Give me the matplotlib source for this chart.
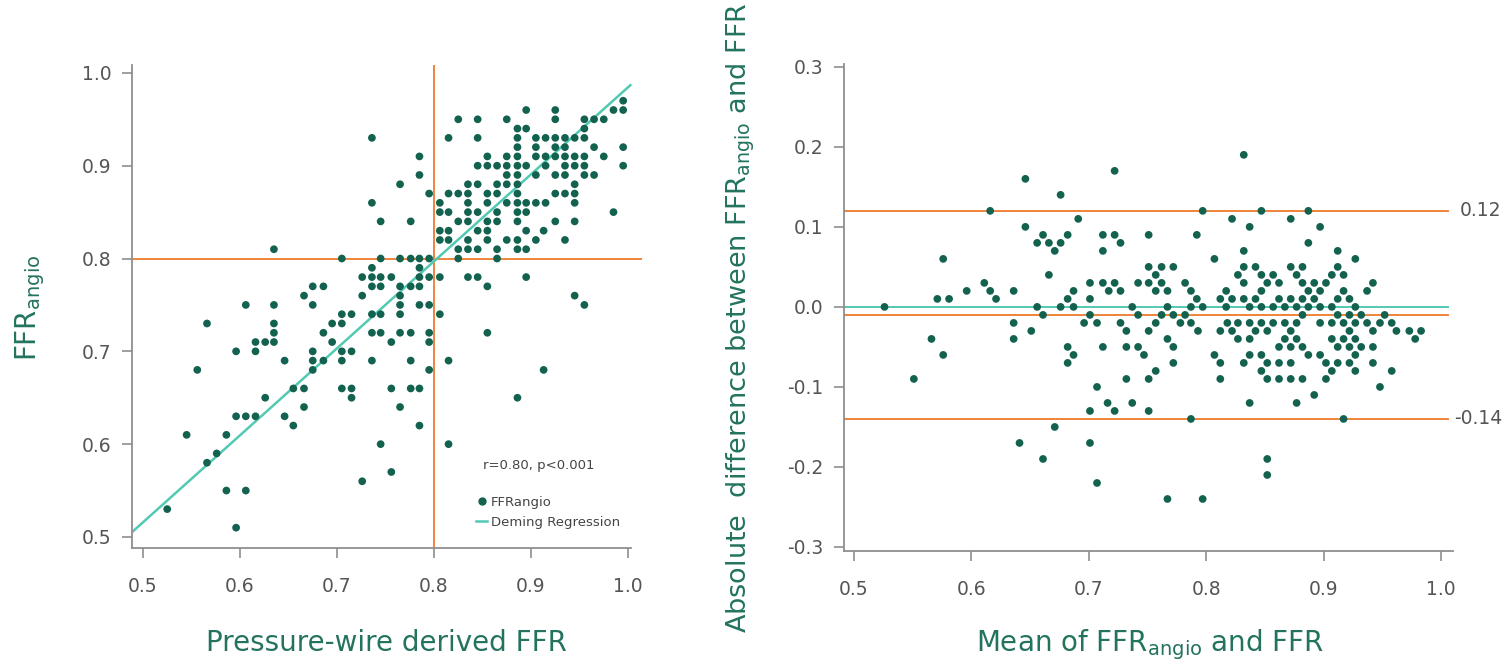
import matplotlib
matplotlib.use("Agg")
import matplotlib.pyplot as plt
from matplotlib.lines import Line2D
import numpy as np

plt.rcParams['font.family'] = ['DejaVu Sans']
plt.rcParams['mathtext.default'] = 'regular'

# ---------------- Left panel data: rows of FFRangio value -> pressure-wire FFR values
left_rows = {
    0.97: [0.995],
    0.96: [0.895, 0.925, 0.985, 0.995],
    0.95: [0.825, 0.845, 0.875, 0.925, 0.955, 0.965, 0.975],
    0.94: [0.886, 0.895, 0.955],
    0.93: [0.736, 0.815, 0.845, 0.886, 0.905, 0.915, 0.925, 0.935, 0.945, 0.955],
    0.92: [0.886, 0.905, 0.925, 0.935, 0.965, 0.995],
    0.91: [0.785, 0.855, 0.875, 0.886, 0.905, 0.915, 0.925, 0.935, 0.945, 0.955, 0.975],
    0.90: [0.845, 0.855, 0.865, 0.875, 0.886, 0.895, 0.915, 0.935, 0.945, 0.955, 0.995],
    0.89: [0.785, 0.875, 0.886, 0.905, 0.925, 0.935, 0.955, 0.965],
    0.88: [0.765, 0.835, 0.845, 0.865, 0.875, 0.886, 0.945],
    0.87: [0.795, 0.815, 0.825, 0.835, 0.855, 0.865, 0.886, 0.925, 0.935, 0.945],
    0.86: [0.736, 0.806, 0.835, 0.855, 0.875, 0.886, 0.895, 0.905, 0.915, 0.945],
    0.85: [0.806, 0.815, 0.835, 0.845, 0.865, 0.886, 0.895, 0.985],
    0.84: [0.745, 0.776, 0.825, 0.835, 0.855, 0.865, 0.886, 0.925, 0.945],
    0.83: [0.806, 0.815, 0.845, 0.855, 0.895, 0.913],
    0.82: [0.806, 0.815, 0.835, 0.855, 0.875, 0.886, 0.905, 0.935],
    0.81: [0.635, 0.825, 0.835, 0.845, 0.865, 0.886, 0.895],
    0.80: [0.705, 0.745, 0.765, 0.776, 0.785, 0.795, 0.825, 0.865],
    0.79: [0.736, 0.785],
    0.78: [0.726, 0.736, 0.745, 0.756, 0.785, 0.795, 0.806, 0.835, 0.845, 0.895],
    0.77: [0.675, 0.686, 0.736, 0.745, 0.765, 0.776, 0.785, 0.855],
    0.76: [0.666, 0.726, 0.765, 0.945],
    0.75: [0.606, 0.635, 0.675, 0.765, 0.785, 0.795, 0.955],
    0.74: [0.705, 0.715, 0.736, 0.745, 0.765, 0.806],
    0.73: [0.566, 0.635, 0.695, 0.705],
    0.72: [0.635, 0.686, 0.736, 0.745, 0.765, 0.776, 0.795, 0.855],
    0.71: [0.616, 0.626, 0.635, 0.695, 0.756, 0.795],
    0.70: [0.596, 0.616, 0.675, 0.705, 0.715],
    0.69: [0.646, 0.675, 0.686, 0.705, 0.736, 0.776, 0.815],
    0.68: [0.556, 0.675, 0.795, 0.913],
    0.66: [0.655, 0.666, 0.705, 0.715, 0.756, 0.776, 0.785],
    0.65: [0.626, 0.715, 0.886],
    0.64: [0.666, 0.765],
    0.63: [0.596, 0.606, 0.616, 0.646],
    0.62: [0.655, 0.785],
    0.61: [0.545, 0.586],
    0.60: [0.745, 0.815],
    0.59: [0.576],
    0.58: [0.566],
    0.57: [0.756],
    0.56: [0.726],
    0.55: [0.586, 0.606],
    0.53: [0.525],
    0.51: [0.596],
}
ffr_wire = [x for yv, xs in left_rows.items() for x in xs]
ffr_angio = [yv for yv, xs in left_rows.items() for x in xs]

deming_slope = 0.9375
deming_intercept = 0.047
cutoff = 0.80

# ---------------- Right panel data: rows of difference -> mean values
right_rows = {
    0.19: [0.832],
    0.17: [0.722],
    0.16: [0.646],
    0.14: [0.676],
    0.12: [0.616, 0.797, 0.847, 0.887],
    0.11: [0.691, 0.822, 0.872],
    0.10: [0.646, 0.837, 0.897],
    0.09: [0.661, 0.682, 0.712, 0.722, 0.751, 0.792],
    0.08: [0.656, 0.666, 0.676, 0.727, 0.887],
    0.07: [0.671, 0.712, 0.832, 0.912],
    0.06: [0.576, 0.807, 0.927],
    0.05: [0.751, 0.762, 0.772, 0.832, 0.842, 0.872, 0.882, 0.912],
    0.04: [0.666, 0.757, 0.827, 0.847, 0.857, 0.877, 0.907, 0.917],
    0.03: [0.611, 0.701, 0.712, 0.722, 0.742, 0.751, 0.762, 0.782, 0.832, 0.852,
           0.862, 0.882, 0.892, 0.902, 0.942],
    0.02: [0.596, 0.616, 0.636, 0.687, 0.717, 0.727, 0.757, 0.767, 0.787, 0.817,
           0.847, 0.887, 0.897, 0.917, 0.937],
    0.01: [0.571, 0.581, 0.621, 0.682, 0.701, 0.792, 0.812, 0.822, 0.832, 0.842,
           0.862, 0.872, 0.882, 0.892, 0.912, 0.922],
    0.00: [0.526, 0.656, 0.676, 0.687, 0.737, 0.767, 0.787, 0.797, 0.817, 0.837,
           0.847, 0.857, 0.867, 0.877, 0.887, 0.897, 0.907, 0.927],
    -0.01: [0.661, 0.701, 0.742, 0.762, 0.772, 0.782, 0.882, 0.912, 0.922, 0.932, 0.952],
    -0.02: [0.636, 0.696, 0.707, 0.727, 0.757, 0.778, 0.787, 0.818, 0.827, 0.837,
            0.847, 0.857, 0.867, 0.877, 0.897, 0.907, 0.917, 0.927, 0.937, 0.948, 0.958],
    -0.03: [0.651, 0.732, 0.751, 0.793, 0.812, 0.822, 0.842, 0.852, 0.872, 0.922,
            0.942, 0.962, 0.973, 0.983],
    -0.04: [0.566, 0.636, 0.767, 0.827, 0.837, 0.867, 0.877, 0.907, 0.917, 0.927, 0.978],
    -0.05: [0.682, 0.712, 0.732, 0.742, 0.772, 0.862, 0.872, 0.882, 0.912, 0.922,
            0.932, 0.942],
    -0.06: [0.576, 0.687, 0.747, 0.807, 0.837, 0.847, 0.887, 0.897, 0.927],
    -0.07: [0.682, 0.772, 0.812, 0.832, 0.852, 0.862, 0.872, 0.902, 0.912, 0.922, 0.942],
    -0.08: [0.757, 0.847, 0.907, 0.927, 0.958],
    -0.09: [0.551, 0.732, 0.751, 0.812, 0.852, 0.862, 0.872, 0.882, 0.902],
    -0.10: [0.707, 0.948],
    -0.11: [0.892],
    -0.12: [0.716, 0.737, 0.837, 0.877],
    -0.13: [0.701, 0.722, 0.751],
    -0.14: [0.787, 0.917],
    -0.15: [0.671],
    -0.17: [0.641, 0.701],
    -0.19: [0.661, 0.852],
    -0.21: [0.852],
    -0.22: [0.707],
    -0.24: [0.767, 0.797],
}
mean_vals = [x for yv, xs in right_rows.items() for x in xs]
diff_vals = [yv for yv, xs in right_rows.items() for x in xs]

mean_diff = -0.01
upper_loa = 0.12
lower_loa = -0.14

# ---------------- styling
PT = '#13624f'
ORANGE = '#f0843c'
TEAL = '#52c9b2'
LABEL = '#23735f'
TICK = '#555555'
SPINE = '#8f8f8f'

W, H = 1509, 668
fig = plt.figure(figsize=(W / 100, H / 100), dpi=100)

def px_axes(x0, y0, x1, y1):
    return fig.add_axes([x0 / W, 1 - y1 / H, (x1 - x0) / W, (y1 - y0) / H])

def fig_text(x, y, s, **kw):
    return fig.text(x / W, 1 - y / H, s, color=LABEL, **kw)

def style(ax):
    for s in ['top', 'right']:
        ax.spines[s].set_visible(False)
    for s in ['left', 'bottom']:
        ax.spines[s].set_color(SPINE)
        ax.spines[s].set_linewidth(1.3)
    ax.tick_params(axis='both', colors=SPINE, labelcolor=TICK, labelsize=13.5,
                   length=7, width=1.2, direction='out')
    ax.tick_params(axis='x', pad=14)
    ax.tick_params(axis='y', pad=8)

# ---------------- left panel
ax1 = px_axes(132, 65, 642, 548)
style(ax1)
ax1.set_xlim(0.4887, 1.0144)
ax1.set_ylim(0.4881, 1.0085)
ax1.spines['bottom'].set_bounds(0.4887, 1.0035)
ax1.set_xticks([0.5, 0.6, 0.7, 0.8, 0.9, 1.0])
ax1.set_yticks([0.5, 0.6, 0.7, 0.8, 0.9, 1.0])
ax1.set_xticklabels(['0.5', '0.6', '0.7', '0.8', '0.9', '1.0'])
ax1.set_yticklabels(['0.5', '0.6', '0.7', '0.8', '0.9', '1.0'])

ax1.axhline(cutoff, color=ORANGE, lw=1.4, zorder=1)
ax1.axvline(cutoff, color=ORANGE, lw=1.4, zorder=1)
xl = np.array([0.4887, 1.0024])
ax1.plot(xl, deming_slope * xl + deming_intercept, color=TEAL, lw=1.8, zorder=2)
ax1.scatter(ffr_wire, ffr_angio, s=31, color=PT, edgecolors='none', zorder=3)

fig_text(386, 651, 'Pressure-wire derived FFR', fontsize=20, ha='center', va='baseline')
fig_text(30, 308, 'FFR$_{angio}$', fontsize=20, ha='center', va='center', rotation=90)

ax1.text(0.688, 0.17, 'r=0.80, p<0.001', transform=ax1.transAxes, fontsize=9.5,
         color='#444444', va='center', ha='left')
handles = [Line2D([], [], marker='o', ls='none', color=PT, markersize=5),
           Line2D([], [], color=TEAL, lw=1.8)]
ax1.legend(handles, ['FFRangio', 'Deming Regression'], loc='upper left',
           bbox_to_anchor=(0.675, 0.108), frameon=False, fontsize=9.5,
           labelcolor='#444444', handlelength=0.8, handletextpad=0.3,
           borderaxespad=0, borderpad=0, labelspacing=0.55)

# ---------------- right panel
ax2 = px_axes(844, 62, 1453, 551)
style(ax2)
ax2.set_xlim(0.4915, 1.0102)
ax2.set_ylim(-0.305, 0.306)
ax2.spines['left'].set_bounds(-0.305, 0.303)
ax2.set_xticks([0.5, 0.6, 0.7, 0.8, 0.9, 1.0])
ax2.set_xticklabels(['0.5', '0.6', '0.7', '0.8', '0.9', '1.0'])
ax2.set_yticks([-0.3, -0.2, -0.1, 0.0, 0.1, 0.2, 0.3])
ax2.set_yticklabels(['-0.3', '-0.2', '-0.1', '0.0', '0.1', '0.2', '0.3'])

line_end = 1.006
for yv, c in [(upper_loa, ORANGE), (mean_diff, ORANGE), (lower_loa, ORANGE), (0.0, TEAL)]:
    ax2.plot([0.4915, line_end], [yv, yv], color=c, lw=1.4, zorder=1)
ax2.scatter(mean_vals, diff_vals, s=31, color=PT, edgecolors='none', zorder=3)

ax2.text(1.016, upper_loa, '0.12', color=TICK, fontsize=13.5, va='center', ha='left',
         clip_on=False)
ax2.text(1.011, lower_loa, '-0.14', color=TICK, fontsize=13.5, va='center', ha='left',
         clip_on=False)

fig_text(1150, 651, 'Mean of FFR$_{angio}$ and FFR', fontsize=20, ha='center', va='baseline')
fig_text(741, 318, 'Absolute  difference between FFR$_{angio}$ and FFR', fontsize=19.5,
         ha='center', va='center', rotation=90)

fig.savefig('out.png', dpi=100, facecolor='white')
